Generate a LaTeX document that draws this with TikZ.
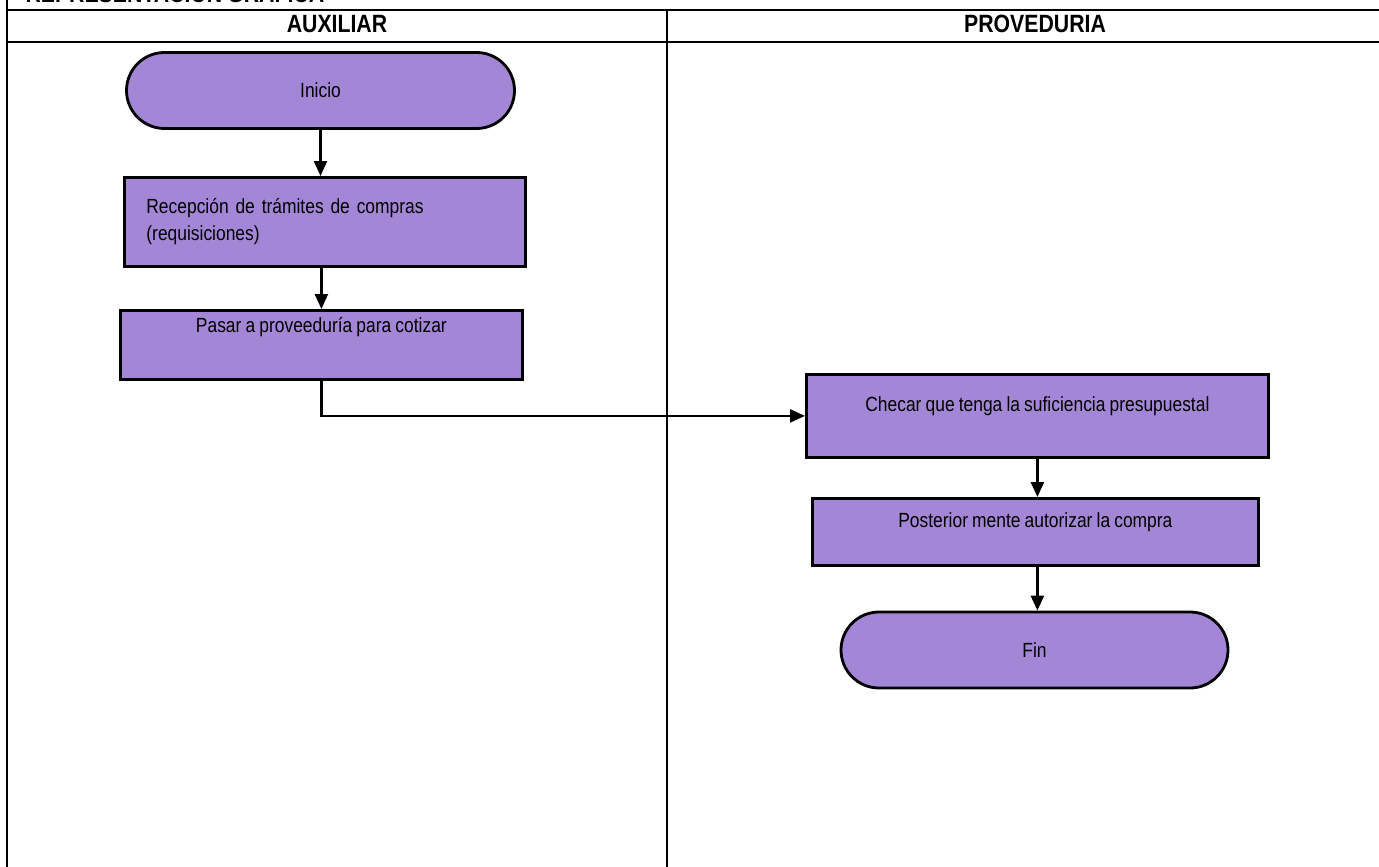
\documentclass[tikz,border=0pt]{standalone}
\usepackage{fontspec}
\setmainfont{Liberation Sans}[FakeStretch=0.85, WordSpace=0.85]
\usetikzlibrary{arrows.meta,shapes.misc,positioning}
\definecolor{lila}{RGB}{163,134,214}

\begin{document}
\begin{tikzpicture}[x=1pt, y=-1pt, >={Triangle[length=15pt,width=13pt]},
    paso/.style={draw, line width=2.8pt, fill=lila, inner sep=0pt, font=\fontsize{20.5}{27}\selectfont},
    term/.style={paso, rounded rectangle, minimum width=388pt, minimum height=76pt},
    flujo/.style={->, line width=2.4pt},
    carril/.style={line width=2.4pt},
    titulo/.style={font=\fontsize{25}{28}\selectfont\bfseries}]
    \useasboundingbox (0,0) rectangle (1379,867);

    % Table and lanes
    \draw[carril] (7,10) -- (1379,10);
    \draw[carril] (7,42) -- (1379,42);
    \draw[carril] (7,0) -- (7,867);
    \draw[carril] (667,10) -- (667,867);
    \node[titulo, anchor=base west] (tit) at (22,3) {REPRESENTACION GRAFICA};
    \node[titulo, anchor=base] (aux) at (337,33) {AUXILIAR};
    \node[titulo, anchor=base] (prov) at (1035,33) {PROVEDURIA};

    % Auxiliar
    \node[term] (inicio) at (320.5,90.5) {Inicio};
    \node[paso, anchor=north west, text width=357pt, inner xsep=22pt, align=left,
          text height=36pt, text depth=53pt] (recep) at (123,176)
          {Recepción de trámites de compras\\(requisiciones)};
    \node[paso, anchor=north west, minimum width=402pt, text height=22pt, text depth=47pt]
          (pasar) at (119,309) {Pasar a proveeduría para cotizar};

    % Proveduria
    \node[paso, anchor=north west, minimum width=462pt, text height=37pt, text depth=46pt]
          (checar) at (805,373) {Checar que tenga la suficiencia presupuestal};
    \node[paso, anchor=north west, minimum width=446pt, text height=29pt, text depth=38pt]
          (autor) at (811,497) {Posterior mente autorizar la compra};
    \node[term, minimum width=387pt] (fin) at (1034.5,650) {Fin};

    % Flow
    \draw[flujo] (inicio.south) -- (inicio.south |- recep.north);
    \draw[flujo] (pasar.north |- recep.south) -- (pasar.north);
    \draw[flujo] (pasar.south) |- (checar.west);
    \draw[flujo] (checar.south) -- (checar.south |- autor.north);
    \draw[flujo] (checar.south |- autor.south) -- (checar.south |- fin.north);
\end{tikzpicture}
\end{document}
